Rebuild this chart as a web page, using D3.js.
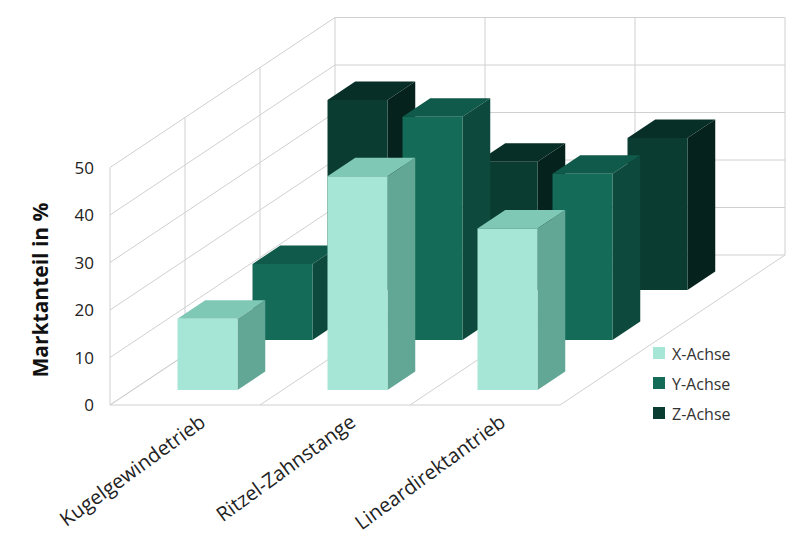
<!DOCTYPE html><html><head><meta charset="utf-8">
<script src="https://d3js.org/d3.v7.min.js"></script>
<style>body{margin:0;background:#fff}</style></head><body>
<svg width="800" height="550"></svg>
<script>
const categories=["Kugelgewindetrieb","Ritzel-Zahnstange","Lineardirektantrieb"];
const series=["X-Achse","Y-Achse","Z-Achse"];
const xValues=[15,45,34];
const yValues=[16,47,35];
const zValues=[40,27,32];
const ticks=[0,10,20,30,40,50];
const values=[xValues,yValues,zValues];
const colors=[{f:"#a5e6d6",t:"#80c8b6",s:"#62a796"},{f:"#146b58",t:"#0f5a4a",s:"#0d4a3d"},{f:"#0b3c32",t:"#072f27",s:"#05231c"}];
const svg=d3.select("svg");
const xs=d3.scaleBand().domain(categories).range([0,450]);
const vs=d3.scaleLinear().domain([0,50]).range([0,237.5]);
const ds=d3.scaleLinear().domain([0,3]).range([0,1]);
const P=(u,d,v)=>[110+u+225*ds(d),405-150*ds(d)-vs(v)];
const line=(a,b,c="#d0d0d0")=>svg.append("line").attr("x1",a[0]).attr("y1",a[1]).attr("x2",b[0]).attr("y2",b[1]).attr("stroke",c).attr("stroke-width",1);
const poly=(pts,fill)=>svg.append("polygon").attr("points",pts.map(p=>p.join(",")).join(" ")).attr("fill",fill);
ticks.forEach(t=>{line(P(0,0,t),P(0,3,t));line(P(0,3,t),P(450,3,t));});
[0,1,2,3].forEach(d=>line(P(0,d,0),P(0,d,50)));
categories.forEach((c,i)=>{line(P(xs(c)+xs.bandwidth(),3,0),P(xs(c)+xs.bandwidth(),3,50));});
[0,150,300,450].forEach(u=>line(P(u,0,0),P(u,3,0)));
line(P(0,0,0),P(450,0,0));
ticks.forEach(t=>{const p=P(0,0,t);svg.append("text").attr("x",p[0]-16).attr("y",p[1]+6).attr("text-anchor","end").attr("font-family","Open Sans").attr("font-size",17).attr("fill","#222").text(t);});
svg.append("text").attr("transform","translate(48,290) rotate(-90)").attr("text-anchor","middle").attr("font-family","Open Sans").attr("font-weight","bold").attr("font-size",21).attr("fill","#111").text("Marktanteil in %");
for(let r=2;r>=0;r--){
  categories.forEach((c,i)=>{
    const v=values[r][i];const u0=xs(c)+45,u1=xs(c)+105,d0=r+0.3,d1=r+0.67;const col=colors[r];
    poly([P(u0,d0,v),P(u1,d0,v),P(u1,d1,v),P(u0,d1,v)],col.t);
    poly([P(u1,d0,0),P(u1,d1,0),P(u1,d1,v),P(u1,d0,v)],col.s);
    poly([P(u0,d0,0),P(u1,d0,0),P(u1,d0,v),P(u0,d0,v)],col.f);
  });
}
categories.forEach(c=>{const p=P(xs(c)+xs.bandwidth()/2,0,0);svg.append("text").attr("transform",`translate(${p[0]+22},${p[1]+20}) rotate(-36)`).attr("text-anchor","end").attr("font-family","Open Sans").attr("font-size",20).attr("fill","#222").text(c);});
series.forEach((s,i)=>{const y=355+30*i;svg.append("rect").attr("x",653).attr("y",y-8).attr("width",12).attr("height",12).attr("fill",colors[i].f);
svg.append("text").attr("x",672).attr("y",y+5).attr("font-family","Open Sans").attr("font-size",16).attr("fill","#333").text(s);});
</script></body></html>
